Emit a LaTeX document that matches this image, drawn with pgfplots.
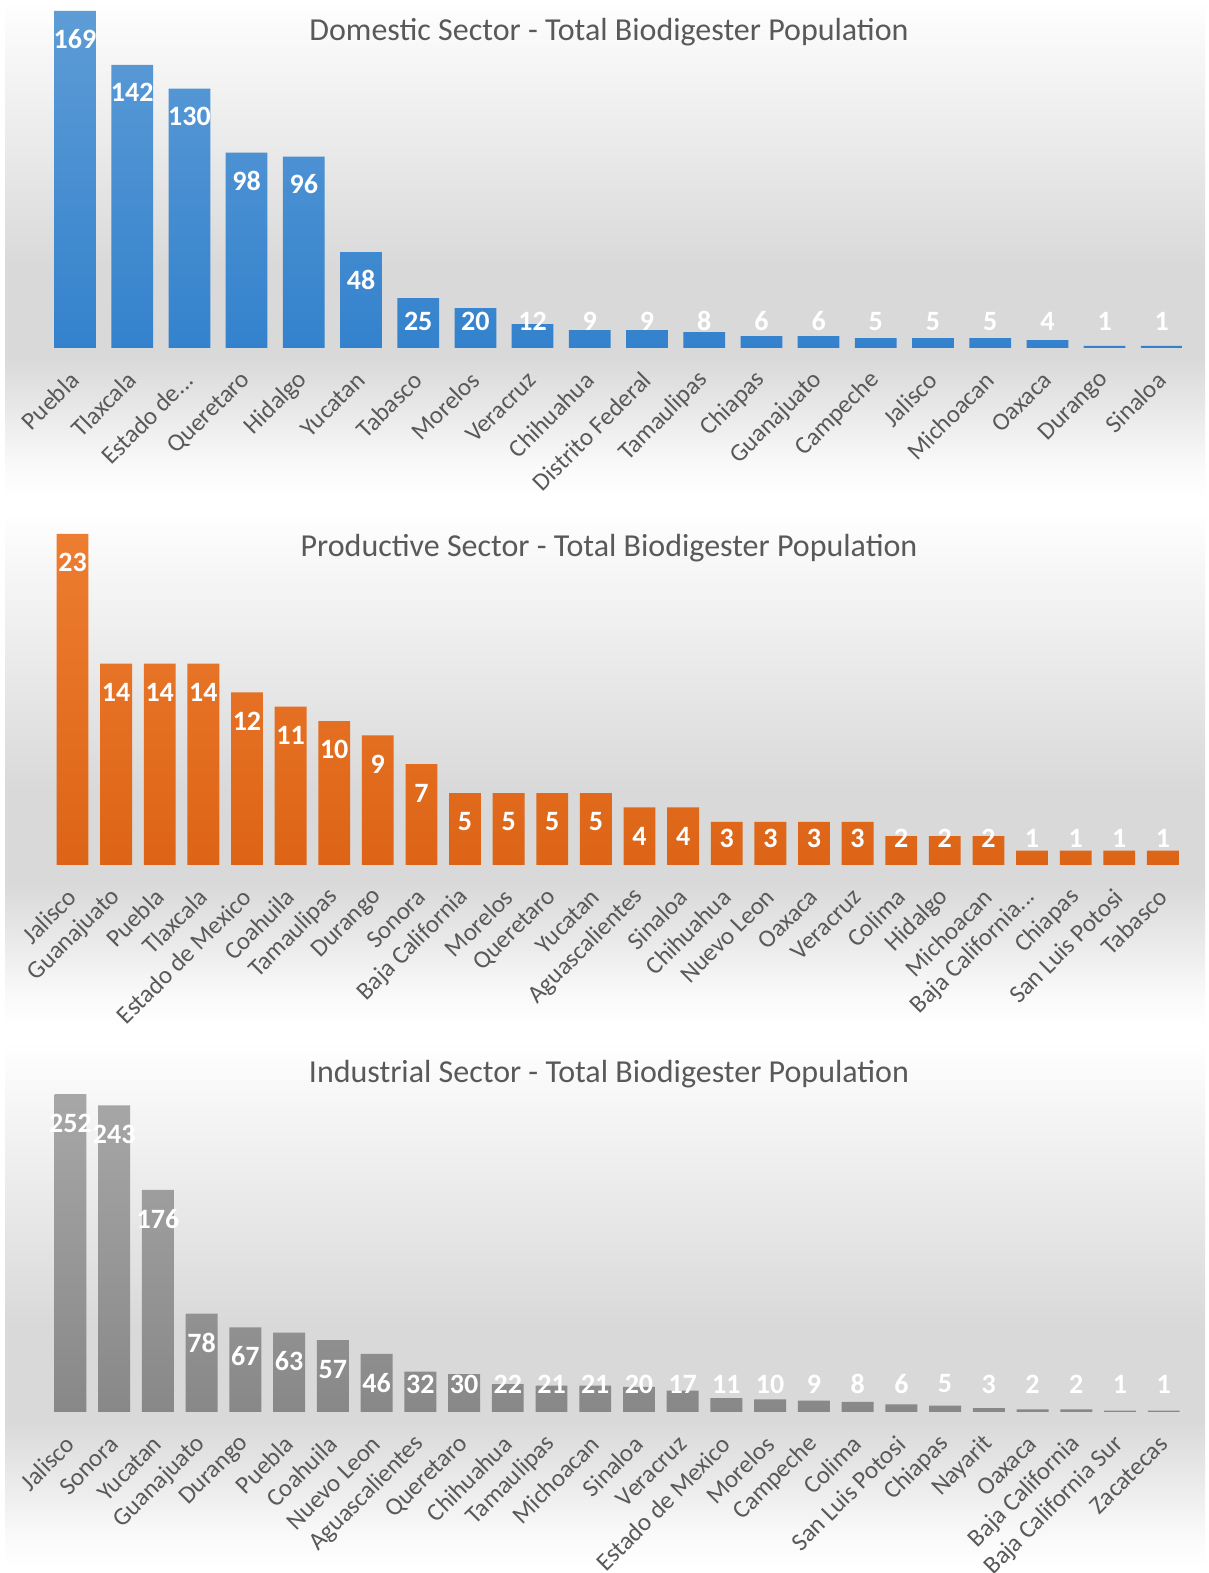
\documentclass[border=0pt]{standalone}
\usepackage{pgfplots}
\pgfplotsset{compat=1.18}
\usepackage{pgfplotstable}
\usepackage{fontspec}
\setmainfont{Carlito}
\definecolor{txtgray}{HTML}{595959}
\definecolor{bgdark}{HTML}{D9D9D9}
\definecolor{blueT}{HTML}{5D9CD6}
\definecolor{blueB}{HTML}{3482CD}
\definecolor{orgT}{HTML}{ED7D31}
\definecolor{orgB}{HTML}{DD6416}
\definecolor{gryT}{HTML}{A7A7A7}
\definecolor{gryB}{HTML}{888888}
\pgfdeclareverticalshading{panelbg}{100bp}{color(0bp)=(white); color(25bp)=(white); color(28bp)=(white!98!black); color(39bp)=(bgdark); color(48bp)=(bgdark); color(70bp)=(white!97!black); color(75bp)=(white); color(100bp)=(white)}

\pgfplotstableread[col sep=comma]{
name,v
Puebla,169
Tlaxcala,142
Estado de...,130
Queretaro,98
Hidalgo,96
Yucatan,48
Tabasco,25
Morelos,20
Veracruz,12
Chihuahua,9
Distrito Federal,9
Tamaulipas,8
Chiapas,6
Guanajuato,6
Campeche,5
Jalisco,5
Michoacan,5
Oaxaca,4
Durango,1
Sinaloa,1
}\domdata

\pgfplotstableread[col sep=comma]{
name,v
Jalisco,23
Guanajuato,14
Puebla,14
Tlaxcala,14
Estado de Mexico,12
Coahuila,11
Tamaulipas,10
Durango,9
Sonora,7
Baja California,5
Morelos,5
Queretaro,5
Yucatan,5
Aguascalientes,4
Sinaloa,4
Chihuahua,3
Nuevo Leon,3
Oaxaca,3
Veracruz,3
Colima,2
Hidalgo,2
Michoacan,2
Baja California...,1
Chiapas,1
San Luis Potosi,1
Tabasco,1
}\prodata

\pgfplotstableread[col sep=comma]{
name,v
Jalisco,252
Sonora,243
Yucatan,176
Guanajuato,78
Durango,67
Puebla,63
Coahuila,57
Nuevo Leon,46
Aguascalientes,32
Queretaro,30
Chihuahua,22
Tamaulipas,21
Michoacan,21
Sinaloa,20
Veracruz,17
Estado de Mexico,11
Morelos,10
Campeche,9
Colima,8
San Luis Potosi,6
Chiapas,5
Nayarit,3
Oaxaca,2
Baja California,2
Baja California Sur,1
Zacatecas,1
}\inddata

\pgfplotsset{panel/.style={
  scale only axis, anchor=south west, clip=false,
  xmin=-0.5, ymin=0,
  axis line style={draw=none}, tick style={draw=none}, major tick length=0pt,
  ytick=\empty, xtick=data,
  xticklabel style={xshift=0pt, yshift=-14pt, rotate=45, anchor=east, inner sep=0pt,
    font=\fontsize{12.5}{15}\selectfont, text=txtgray},
},
barlbl/.style={draw=none, mark=none, nodes near coords,
  /pgf/number format/assume math mode=true,
  every node near coord/.append style={anchor=center, text=white,
    font=\bfseries\fontsize{14}{16}\selectfont}},
}

\begin{document}
\begin{tikzpicture}
\path[use as bounding box, fill=white] (0pt,0pt) rectangle (604.5pt,786.5pt);
\fill[shading=panelbg] (2.5pt,538pt) rectangle (602.5pt,786.5pt);
\fill[shading=panelbg] (2.5pt,272.5pt) rectangle (602.5pt,530.5pt);
\fill[shading=panelbg] (2.5pt,2.5pt) rectangle (602.5pt,265.5pt);

% Domestic
\begin{axis}[panel, at={(23.2pt,612.5pt)}, width=572pt, height=179.5pt,
  xmax=19.5, ymax=180, xticklabels from table={\domdata}{name}]
\addplot[ybar, bar width=0.73, draw=none, top color=blueT, bottom color=blueB]
  table[x expr=\coordindex, y=v] {\domdata};
\addplot[barlbl, point meta=explicit]
  table[x expr=\coordindex, y expr={max(\thisrow{v}-14,13.5)}, meta=v] {\domdata};
\end{axis}
\node[text=txtgray, font=\fontsize{16}{18}\selectfont] at (304.5pt,770.5pt) {Domestic Sector - Total Biodigester Population};

% Productive
\begin{axis}[panel, at={(25.35pt,354pt)}, width=567pt, height=172.7pt,
  xmax=25.5, ymax=24, xticklabels from table={\prodata}{name}]
\addplot[ybar, bar width=0.73, draw=none, top color=orgT, bottom color=orgB]
  table[x expr=\coordindex, y=v] {\prodata};
\addplot[barlbl, point meta=explicit]
  table[x expr=\coordindex, y expr={max(\thisrow{v}-2,1.875)}, meta=v] {\prodata};
\end{axis}
\node[text=txtgray, font=\fontsize{16}{18}\selectfont] at (304.5pt,512.5pt) {Productive Sector - Total Biodigester Population};

% Industrial
\begin{axis}[panel, at={(24.3pt,80.5pt)}, width=568.5pt, height=164pt,
  xmax=25.5, ymax=260, xticklabels from table={\inddata}{name}]
\addplot[ybar, bar width=0.73, draw=none, top color=gryT, bottom color=gryB]
  table[x expr=\coordindex, y=v] {\inddata};
\addplot[barlbl, point meta=explicit]
  table[x expr=\coordindex, y expr={max(\thisrow{v}-23,22.2)}, meta=v] {\inddata};
\end{axis}
\node[text=txtgray, font=\fontsize{16}{18}\selectfont] at (304.5pt,249.5pt) {Industrial Sector - Total Biodigester Population};
\end{tikzpicture}
\end{document}
